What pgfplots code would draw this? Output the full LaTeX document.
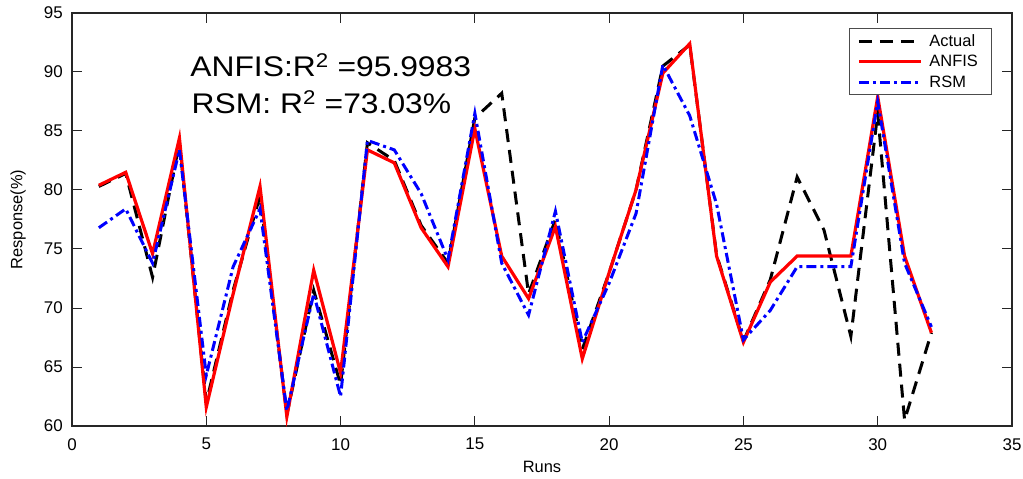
\documentclass[border=0pt]{standalone}
\usepackage{fontspec}
\setmainfont{Liberation Sans}
\newfontfamily\widefont{Liberation Sans}[FakeStretch=1.12]
\usepackage{pgfplots}
\pgfplotsset{compat=1.18}
\usepackage{pgfplotstable}
\pgfplotstableread{
x Actual ANFIS RSM
1 80.3 80.4 76.8
2 81.4 81.5 78.4
3 72.6 74.6 73.8
4 84.0 84.4 83.4
5 62.0 61.6 64.3
6 71.5 71.2 73.5
7 79.5 80.3 78.4
8 61.0 60.8 61.3
9 71.5 73.2 71.2
10 63.5 64.5 62.5
11 84.0 83.4 84.2
12 82.5 82.3 83.4
13 77.0 76.8 79.7
14 73.8 73.5 74.1
15 86.1 85.2 86.5
16 88.2 74.4 73.8
17 71.2 70.8 69.4
18 77.5 76.9 78.2
19 66.5 65.7 67.1
20 73.0 73.0 72.1
21 80.0 80.0 78.0
22 90.5 89.9 90.6
23 92.3 92.4 86.3
24 74.5 74.4 78.8
25 67.2 67.1 67.3
26 72.4 72.2 69.8
27 81.1 74.4 73.5
28 76.6 74.4 73.5
29 67.6 74.4 73.5
30 86.5 87.9 87.5
31 60.5 74.4 73.8
32 67.9 67.9 68.4
}\datatable
\begin{document}
\begin{tikzpicture}
\path[use as bounding box] (-72bp,-53bp) rectangle (951bp,426bp);
\begin{axis}[
  at={(0,0)}, anchor=south west,
  scale only axis, width=940bp, height=413bp,
  xmin=0, xmax=35, ymin=60, ymax=95,
  xtick={0,5,...,35}, ytick={60,65,...,95},
  tick align=inside, major tick length=10bp,
  tick style={line width=1bp, black!85},
  axis line style={line width=1.5bp, black!85},
  /pgf/number format/assume math mode=true,
  ticklabel style={font=\fontsize{17}{18}\selectfont, inner sep=0pt},
  xticklabel style={yshift=-12bp},
  yticklabel style={xshift=-9bp},
  xlabel={Runs}, ylabel={Response(\%)},
  label style={font=\fontsize{16.5}{18}\selectfont},
  xlabel style={at={(axis description cs:0.5,0)}, anchor=base, yshift=-46bp},
  ylabel style={at={(axis description cs:-0.0574,0.5)}, anchor=center},
  legend cell align=left,
  legend style={at={(0.9787,0.9637)}, anchor=north east, draw=black!70, line width=1bp,
    font=\fontsize{16.5}{18}\selectfont, row sep=3.5bp, inner xsep=8bp, inner ysep=4bp,
    /tikz/every odd column/.append style={column sep=5bp}},
  legend image code/.code={\draw[#1] (0bp,0bp) -- (62bp,0bp);},
]
\addplot[black, line width=3bp, dash pattern=on 13bp off 8bp] table[x=x,y=Actual]{\datatable};
\addlegendentry{\makebox[52bp][l]{Actual}}
\addplot[red, line width=3.2bp] table[x=x,y=ANFIS]{\datatable};
\addlegendentry{\makebox[52bp][l]{ANFIS}}
\addplot[blue, line width=3bp, dash pattern=on 10bp off 4bp on 3bp off 4bp] table[x=x,y=RSM]{\datatable};
\addlegendentry{\makebox[52bp][l]{RSM}}
\node[anchor=base west, inner sep=0pt, font=\widefont\fontsize{28.5}{30}\selectfont] at (axis cs:4.4,89.6) {ANFIS:R\textsuperscript{2} =95.9983};
\node[anchor=base west, inner sep=0pt, font=\widefont\fontsize{28.5}{30}\selectfont] at (axis cs:4.45,86.5) {RSM: R\textsuperscript{2} =73.03\%};
\end{axis}
\end{tikzpicture}
\end{document}
